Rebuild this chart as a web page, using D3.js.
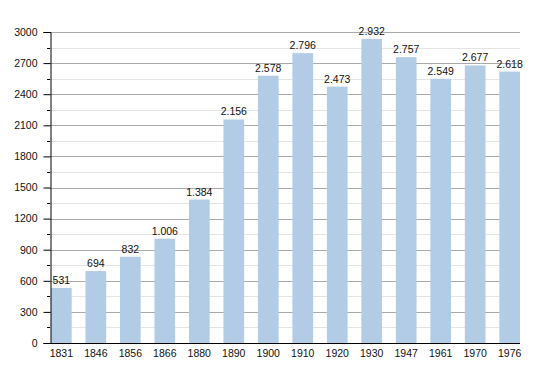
<!DOCTYPE html>
<html>
<head>
<meta charset="utf-8">
<script src="https://cdn.jsdelivr.net/npm/d3@7"></script>
<style>
  body { margin: 0; background: #fff; }
  text { font-family: "Liberation Sans", Arial, sans-serif; font-size: 10.5px; fill: #111; }
</style>
</head>
<body>
<svg id="chart" width="550" height="373"></svg>
<script>
const years = ["1831", "1846", "1856", "1866", "1880", "1890", "1900", "1910", "1920", "1930", "1947", "1961", "1970", "1976"];
const population = [531, 694, 832, 1006, 1384, 2156, 2578, 2796, 2473, 2932, 2757, 2549, 2677, 2618];
const majorTicks = [0, 300, 600, 900, 1200, 1500, 1800, 2100, 2400, 2700, 3000];
const minorTicks = [150, 450, 750, 1050, 1350, 1650, 1950, 2250, 2550, 2850];

const svg = d3.select("#chart");
const plotLeft = 50, plotRight = 520, plotTop = 32, plotBottom = 343;

const x = d3.scaleBand().domain(years).range([51, plotRight]).paddingInner(0.4).paddingOuter(0);
const y = d3.scaleLinear().domain([0, 3000]).range([plotBottom, plotTop]);

// grid lines
svg.append("g").selectAll("line").data(minorTicks).enter().append("line")
  .attr("x1", plotLeft).attr("x2", plotRight)
  .attr("y1", d => Math.round(y(d)) + 0.5).attr("y2", d => Math.round(y(d)) + 0.5)
  .attr("stroke", "#e4e4e4");
svg.append("g").selectAll("line").data(majorTicks.slice(1)).enter().append("line")
  .attr("x1", plotLeft).attr("x2", plotRight)
  .attr("y1", d => Math.round(y(d)) + 0.5).attr("y2", d => Math.round(y(d)) + 0.5)
  .attr("stroke", "#aaaaaa");

// bars
svg.append("g").selectAll("rect").data(population).enter().append("rect")
  .attr("x", (d, i) => x(years[i]))
  .attr("width", x.bandwidth())
  .attr("y", d => y(d))
  .attr("height", d => plotBottom - y(d))
  .attr("fill", "#b3cce6");

// value labels
svg.append("g").selectAll("text").data(population).enter().append("text")
  .attr("x", (d, i) => x(years[i]) + x.bandwidth() / 2)
  .attr("y", d => y(d) - 4)
  .attr("text-anchor", "middle")
  .text(d => d3.format(",")(d).replace(",", "."));

// y axis
const yAxis = d3.axisLeft(y).tickValues(majorTicks).tickSize(7).tickPadding(6).tickFormat(d3.format("d"));
const yg = svg.append("g").attr("transform", "translate(" + (plotLeft + 0.5) + ",0)").call(yAxis);
yg.select(".domain").attr("stroke", "#000");
yg.selectAll(".tick line").attr("stroke", "#000");
yg.selectAll(".tick text").attr("font-size", 10.5).attr("font-family", "Liberation Sans, Arial, sans-serif").attr("fill", "#111");
svg.append("g").selectAll("line").data(minorTicks).enter().append("line")
  .attr("x1", plotLeft - 3).attr("x2", plotLeft)
  .attr("y1", d => Math.round(y(d)) + 0.5).attr("y2", d => Math.round(y(d)) + 0.5)
  .attr("stroke", "#000");

// x axis
svg.append("line")
  .attr("x1", plotLeft - 6).attr("x2", plotRight)
  .attr("y1", plotBottom + 0.5).attr("y2", plotBottom + 0.5)
  .attr("stroke", "#000");
svg.append("g").selectAll("text").data(years).enter().append("text")
  .attr("x", d => x(d) + x.bandwidth() / 2)
  .attr("y", 357)
  .attr("text-anchor", "middle")
  .text(d => d);
</script>
</body>
</html>
